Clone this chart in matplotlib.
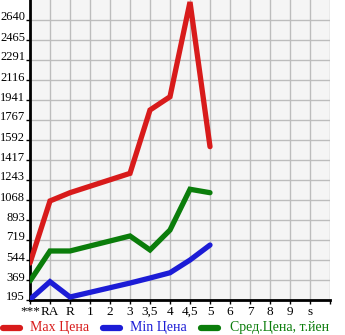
import matplotlib
matplotlib.use("Agg")
import matplotlib.pyplot as plt
import matplotlib.transforms as mtransforms
from matplotlib.lines import Line2D
import numpy as np

categories = ["***", "RA", "R", "1", "2", "3", "3,5", "4", "4,5", "5", "6", "7", "8", "9", "s", ""]
max_price = [518, 1060, 1132, None, None, 1301, 1854, 1970, 2797, 1534, None, None, None, None, None, None]
min_price = [200, 355, 221, None, None, 343, 387, 433, 544, 675, None, None, None, None, None, None]
avg_price = [361, 623, 623, None, None, 754, 632, 806, 1162, 1132, None, None, None, None, None, None]
yticks = [195, 369, 544, 719, 893, 1068, 1243, 1417, 1592, 1767, 1941, 2116, 2291, 2465, 2640]
series_labels = ["Max Цена", "Min Цена", "Сред.Цена, т.йен"]
colors = ["#d81b1b", "#1c1cd6", "#0b7d0b"]

plt.rcParams['font.family'] = ['Liberation Serif', 'DejaVu Serif']

W, H = 345, 335
fig = plt.figure(figsize=(W / 100, H / 100), dpi=100)
ax = fig.add_axes([30 / W, 35 / H, 300 / W, 300 / H])
ax.set_facecolor("#f5f5f5")

x = np.arange(len(categories))
for vals, c in zip([max_price, min_price, avg_price], colors):
    xs = [i for i, v in enumerate(vals) if v is not None]
    ys = [v for v in vals if v is not None]
    ax.plot(xs, ys, color=c, lw=3.8, solid_capstyle='round', solid_joinstyle='miter', zorder=3)

ax.set_xlim(0, len(categories) - 1)
ax.set_ylim(195, 2640 + 174.64)
ax.set_xticks(x)
ax.set_xticklabels(categories, fontsize=9.5)
ax.set_yticks(yticks)
ax.set_yticklabels([str(v) for v in yticks], fontsize=9)
ax.grid(True, color="#bdbdbd", lw=1.0, zorder=0)
ax.tick_params(axis='both', length=3, width=1, color='black', pad=1)
ax.tick_params(axis='y', pad=0.5)
for s in ['top', 'right']:
    ax.spines[s].set_visible(False)
for s in ['left', 'bottom']:
    ax.spines[s].set_linewidth(2)
    ax.spines[s].set_color('black')

offset = mtransforms.ScaledTranslation(0, 4 / 100, fig.dpi_scale_trans)
for lab in ax.get_yticklabels():
    lab.set_transform(lab.get_transform() + offset)

# legend
ly = 7 / H
items = [(0, 30), (100, 130), (198, 230)]
for (lx, tx), c, lab in zip(items, colors, series_labels):
    fig.add_artist(Line2D([(lx + 3) / W, (lx + 20) / W], [ly, ly], color=c, lw=4.5,
                          solid_capstyle='round', transform=fig.transFigure))
    fig.text(tx / W, ly, lab, color=c, fontsize=10, va='center', ha='left')

fig.savefig("out.png", dpi=100)
